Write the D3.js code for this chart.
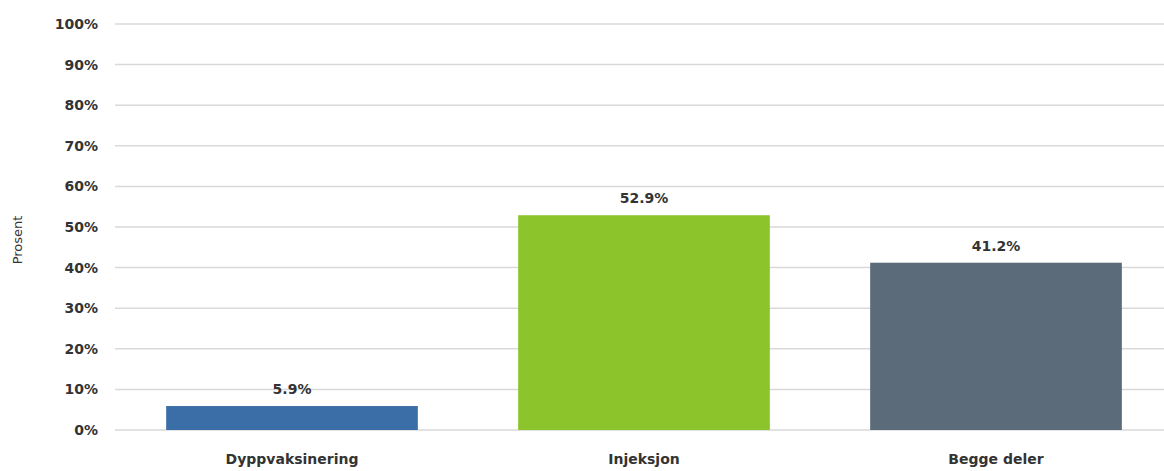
<!DOCTYPE html>
<html>
<head>
<meta charset="utf-8">
<script src="https://cdn.jsdelivr.net/npm/d3@7"></script>
<style>
  body { margin: 0; background: #fff; }
  text { font-family: "DejaVu Sans", sans-serif; }
</style>
</head>
<body>
<div id="chart"></div>
<script>
const categories = ['Dyppvaksinering', 'Injeksjon', 'Begge deler'];
const values = [5.9, 52.9, 41.2];
const barColors = ['#3b6ea6', '#8bc42b', '#5c6b7a'];
const yTicks = [0, 10, 20, 30, 40, 50, 60, 70, 80, 90, 100];

const width = 1164;
const height = 471;

const svg = d3.select('#chart')
  .append('svg')
  .attr('width', width)
  .attr('height', height);

const x = d3.scaleBand()
  .domain(categories)
  .range([116, 1172])
  .paddingInner(0.285)
  .paddingOuter(0.1425);

const y = d3.scaleLinear()
  .domain([0, 100])
  .range([430, 24]);

// gridlines
svg.append('g')
  .selectAll('line')
  .data(yTicks)
  .enter()
  .append('line')
  .attr('x1', 115)
  .attr('x2', width)
  .attr('y1', d => y(d))
  .attr('y2', d => y(d))
  .attr('stroke', '#d9d9d9')
  .attr('stroke-width', 1.5);

// y axis labels
const yAxis = d3.axisLeft(y)
  .tickValues(yTicks)
  .tickFormat(d => d + '%')
  .tickSize(0)
  .tickPadding(0);

const gy = svg.append('g')
  .attr('transform', 'translate(98,0)')
  .call(yAxis);
gy.select('.domain').remove();
gy.selectAll('text')
  .attr('fill', '#333')
  .style('font-size', '14px')
  .style('font-weight', 'bold');

// bars
svg.append('g')
  .selectAll('rect')
  .data(values)
  .enter()
  .append('rect')
  .attr('x', (d, i) => x(categories[i]))
  .attr('y', d => y(d))
  .attr('width', x.bandwidth())
  .attr('height', d => y(0) - y(d))
  .attr('fill', (d, i) => barColors[i]);

// value labels
svg.append('g')
  .selectAll('text')
  .data(values)
  .enter()
  .append('text')
  .attr('x', (d, i) => x(categories[i]) + x.bandwidth() / 2)
  .attr('y', d => y(d) - 12)
  .attr('text-anchor', 'middle')
  .attr('fill', '#333')
  .style('font-size', '14px')
  .style('font-weight', 'bold')
  .text(d => d.toFixed(1) + '%');

// x axis labels
const xAxis = d3.axisBottom(x).tickSize(0).tickPadding(0);
const gx = svg.append('g')
  .attr('transform', 'translate(0,454)')
  .call(xAxis);
gx.select('.domain').remove();
gx.selectAll('text')
  .attr('fill', '#333')
  .style('font-size', '14px')
  .style('font-weight', 'bold');

// y axis title
svg.append('text')
  .attr('transform', 'translate(22,240) rotate(-90)')
  .attr('text-anchor', 'middle')
  .attr('fill', '#333')
  .style('font-size', '13px')
  .text('Prosent');
</script>
</body>
</html>
